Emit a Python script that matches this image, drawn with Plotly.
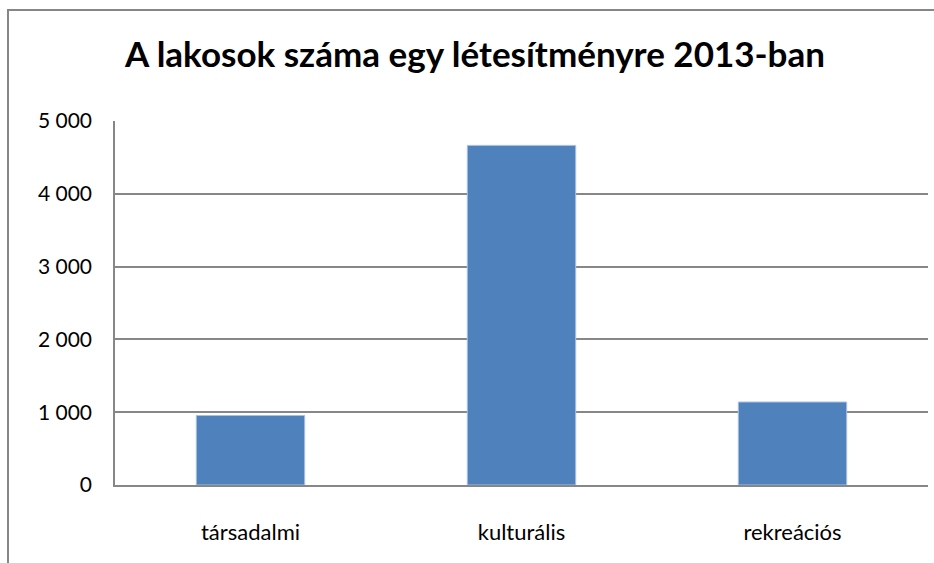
import plotly.graph_objects as go

categories = ["társadalmi", "kulturális", "rekreációs"]
values = [955, 4665, 1140]
y_tick_vals = [0, 1000, 2000, 3000, 4000, 5000]
y_tick_text = ["0", "1 000", "2 000", "3 000", "4 000", "5 000"]
title_text = "A lakosok száma egy létesítményre 2013-ban"

W, H = 934, 563
ml, mr, mt, mb = 115, 6, 121, 78
pw = W - ml - mr
ph = H - mt - mb

fig = go.Figure(go.Bar(
    x=categories, y=values,
    marker=dict(color="#4F81BD", line=dict(color="#A9C1DF", width=1)),
    width=0.4,
))

grid = "#878787"
fig.update_layout(
    width=W, height=H,
    margin=dict(l=ml, r=mr, t=mt, b=mb, autoexpand=False),
    paper_bgcolor="white", plot_bgcolor="white",
    showlegend=False,
    title=dict(text="<b>" + title_text + "</b>", x=475 / W, xanchor="center",
               y=1 - 55 / H, yanchor="middle",
               font=dict(family="Lato", size=35, color="black")),
    font=dict(family="Lato", color="black"),
    xaxis=dict(showgrid=False, showline=True, linecolor=grid, linewidth=1.5,
               ticks="", tickfont=dict(size=22), ticklabelstandoff=27),
    yaxis=dict(range=[0, 5000], tickvals=y_tick_vals, ticktext=y_tick_text,
               showgrid=True, gridcolor=grid, gridwidth=1.5,
               showline=True, linecolor=grid, linewidth=1.5,
               zeroline=False, ticks="", tickfont=dict(size=21),
               ticklabelstandoff=17),
    shapes=[dict(type="rect", xref="paper", yref="paper",
                 x0=(8 - ml) / pw, x1=1.2,
                 y0=-0.5, y1=(H - mb - 10) / ph,
                 line=dict(color="#868686", width=2), layer="below")],
)

fig.write_html("out.html",
               config={"displayModeBar": False},
               post_script="document.body.style.margin='0';document.body.style.overflow='hidden';")
